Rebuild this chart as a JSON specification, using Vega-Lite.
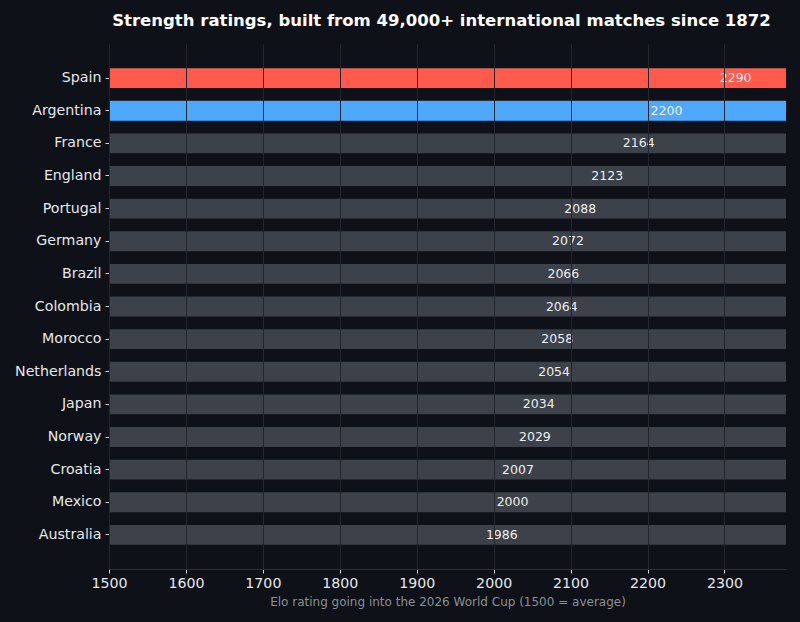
{
  "$schema": "https://vega.github.io/schema/vega-lite/v6.json",
  "width": 677,
  "height": 525,
  "autosize": "none",
  "padding": {"left": 109, "top": 44, "right": 14, "bottom": 53},
  "background": "#0e1117",
  "title": {
    "text": "Strength ratings, built from 49,000+ international matches since 1872",
    "font": "DejaVu Sans",
    "fontSize": 16.5,
    "fontWeight": "bold",
    "color": "#ffffff",
    "anchor": "middle",
    "dx": -6,
    "offset": 15
  },
  "config": {
    "view": {"stroke": null},
    "font": "DejaVu Sans"
  },
  "data": {
    "values": [
      {"team": "Spain", "rating": 2290, "group": "top"},
      {"team": "Argentina", "rating": 2200, "group": "second"},
      {"team": "France", "rating": 2164, "group": "rest"},
      {"team": "England", "rating": 2123, "group": "rest"},
      {"team": "Portugal", "rating": 2088, "group": "rest"},
      {"team": "Germany", "rating": 2072, "group": "rest"},
      {"team": "Brazil", "rating": 2066, "group": "rest"},
      {"team": "Colombia", "rating": 2064, "group": "rest"},
      {"team": "Morocco", "rating": 2058, "group": "rest"},
      {"team": "Netherlands", "rating": 2054, "group": "rest"},
      {"team": "Japan", "rating": 2034, "group": "rest"},
      {"team": "Norway", "rating": 2029, "group": "rest"},
      {"team": "Croatia", "rating": 2007, "group": "rest"},
      {"team": "Mexico", "rating": 2000, "group": "rest"},
      {"team": "Australia", "rating": 1986, "group": "rest"}
    ]
  },
  "encoding": {
    "y": {
      "field": "team",
      "type": "nominal",
      "sort": null,
      "scale": {"paddingInner": 0.39, "paddingOuter": 0.74},
      "axis": {
        "title": null,
        "domain": false,
        "ticks": true,
        "tickSize": 4,
        "tickColor": "#d0d4da",
        "labelColor": "#e6e8eb",
        "labelFontSize": 14.2,
        "labelPadding": 4
      }
    }
  },
  "layer": [
    {
      "mark": {"type": "bar", "clip": true},
      "encoding": {
        "x": {
          "datum": 1500,
          "type": "quantitative",
          "scale": {"domain": [1500, 2380], "nice": false, "zero": false},
          "axis": {
            "values": [1500, 1600, 1700, 1800, 1900, 2000, 2100, 2200, 2300],
            "title": "Elo rating going into the 2026 World Cup (1500 = average)",
            "titleColor": "#8a9099",
            "titleFontSize": 12,
            "titleFontWeight": "normal",
            "titlePadding": 6,
            "labelColor": "#e6e8eb",
            "labelFontSize": 14.2,
            "labelPadding": 3,
            "labelFlush": false,
            "tickColor": "#d0d4da",
            "tickSize": 4,
            "domainColor": "#2a2f37",
            "grid": true,
            "gridColor": "#22272f",
            "gridWidth": 1,
            "zindex": 1,
            "format": "d"
          }
        },
        "x2": {"datum": 2380},
        "color": {
          "field": "group",
          "type": "nominal",
          "scale": {
            "domain": ["top", "second", "rest"],
            "range": ["#ff5a4d", "#4ea8fb", "#3c414a"]
          },
          "legend": null
        }
      }
    },
    {
      "mark": {
        "type": "text",
        "align": "left",
        "baseline": "middle",
        "dx": 3,
        "fontSize": 12.5,
        "color": "#eceef0"
      },
      "encoding": {
        "x": {"field": "rating", "type": "quantitative"},
        "text": {"field": "rating", "type": "quantitative", "format": "d"}
      }
    }
  ]
}
